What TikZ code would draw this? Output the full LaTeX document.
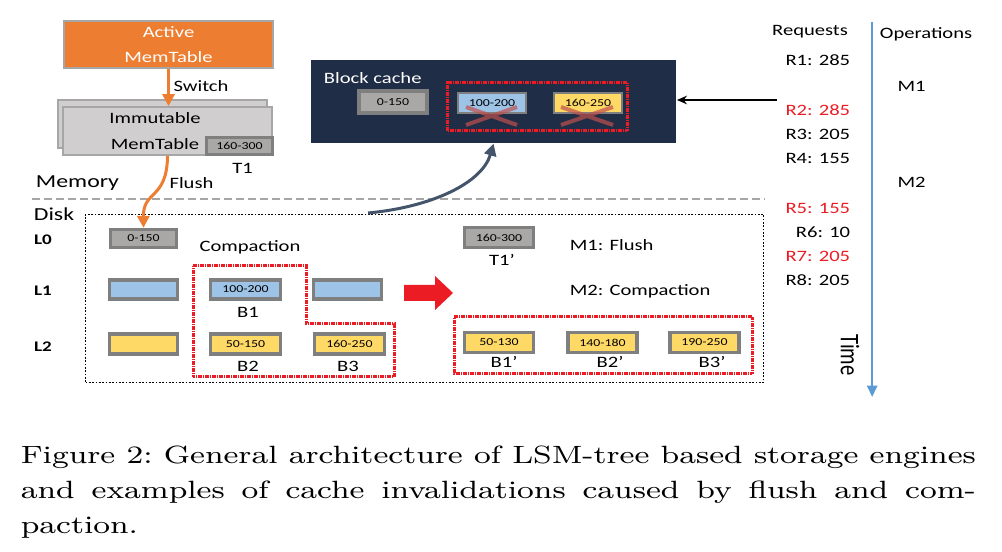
\documentclass[tikz,border=0pt]{standalone}
\usepackage{fontspec}
\usepackage{graphicx}
\usepackage{tikz}
\usetikzlibrary{arrows.meta}
\newfontfamily\carl{Carlito}
\definecolor{act}{RGB}{237,125,49}
\definecolor{imm}{RGB}{208,206,206}
\definecolor{edge}{RGB}{166,166,166}
\definecolor{frame}{RGB}{127,127,127}
\definecolor{tbl}{RGB}{170,167,167}
\definecolor{lb}{RGB}{157,195,230}
\definecolor{ly}{RGB}{255,217,102}
\definecolor{navy}{RGB}{31,45,70}
\definecolor{slate}{RGB}{68,84,106}
\definecolor{rd}{RGB}{236,28,36}
\definecolor{tl}{RGB}{91,155,213}
\definecolor{xr}{RGB}{192,80,77}
\newcommand{\ux}{0.23077pt}
\newcommand{\uy}{0.3pt}

\begin{document}
\begin{tikzpicture}[x=\ux,y=-\uy,xscale=1.3,
    every node/.append style={transform shape},
    txt/.style={font=\carl\fontsize{4.75}{7.7}\selectfont,inner sep=0pt},
    big/.style={font=\carl\fontsize{5.5}{6}\selectfont,inner sep=0pt},
    lvl/.style={font=\carl\bfseries\fontsize{4.4}{5}\selectfont,inner sep=0pt},
    wpx/.style={minimum width=#1*\ux},
    hpx/.style={minimum height=#1*\uy},
    sst/.style={draw=frame,line width=0.95pt,inner sep=0pt,
      font=\carl\fontsize{3.2}{3.2}\selectfont,wpx=68,hpx=19},
    memtbl/.style={draw=edge,line width=0.5pt,fill=imm,txt,align=center,wpx=209,hpx=48},
    inval/.style={draw=rd,line width=0.9pt,dash pattern=on 0.5pt off 0.2pt},
    flow/.style={draw=act,line width=0.9pt,-{Triangle[length=3.6pt,width=3.6pt]}},
    xmark/.style={draw=xr,line width=1.2pt,opacity=0.7}]
  \useasboundingbox (0,0) rectangle (1002,552);

  % memory side
  \node[memtbl,fill=act,text=white,hpx=47] (active) at (168.5,44.5) {Active\\MemTable};
  \node[memtbl] (immback) at (162.5,124) {};
  \node[memtbl] (imm) at (167.5,131) {};
  \node[txt,align=center] (immtxt) at (155,131) {Immutable\\MemTable};
  \node[sst,fill=tbl,line width=1.1pt,wpx=66,hpx=17] (t1) at (239.5,146) {160-300};
  \node[txt] (t1lbl) at (242.5,168) {T1};
  \draw[flow] (active.south) -- (active.south |- imm.north);
  \node[txt] (switch) at (201,86) {Switch};
  \node[txt] (flush) at (191.5,183) {Flush};
  \node[big] (mem) at (77.5,183) {Memory};
  \draw[edge,line width=0.6pt,dash pattern=on 2.4pt off 1.2pt] (32,199) -- (765,199);
  \node[big] (disklbl) at (54,214) {Disk};

  % disk side
  \node[draw,line width=0.3pt,dash pattern=on 0.5pt off 0.5pt,wpx=678,hpx=168] (disk) at (424,299) {};
  \foreach \l/\y in {0/240,1/291,2/347}
    \node[lvl] (lv\l) at (43,\y) {L\l};
  \node[sst,fill=tbl,wpx=66,hpx=18] (l0) at (143.5,238.5) {0-150};
  \node[sst,fill=lb] (l1a) at (143.5,289.5) {};
  \node[sst,fill=lb,wpx=70] (b1) at (245.5,289.5) {100-200};
  \node[sst,fill=lb] (l1c) at (347.5,289.5) {};
  \node[sst,fill=ly,hpx=20] (l2a) at (143.5,344) {};
  \node[sst,fill=ly,wpx=70,hpx=20] (b2) at (245.5,344) {50-150};
  \node[sst,fill=ly,wpx=70,hpx=20] (b3) at (349.5,344) {160-250};
  \node[txt] (b1lbl) at (248,312) {B1};
  \node[txt] (b2lbl) at (248,366) {B2};
  \node[txt] (b3lbl) at (348,366) {B3};
  \node[txt] (comp) at (250,247) {Compaction};
  \draw[inval] (193,266) -- (306,266) -- (306,324) -- (394,324) -- (394,377) -- (193,377) -- cycle;
  \draw[flow] (imm.south) .. controls (167,200) and (143,190) .. (l0.north);
  \fill[rd] (404,285) -- (435,285) -- (435,276) -- (453,293) -- (435,310) -- (435,301) -- (404,301) -- cycle;

  \node[sst,fill=tbl,wpx=69,hpx=20] (t1n) at (499,237.5) {160-300};
  \node[txt] (t1nlbl) at (502,260) {T1’};
  \node[txt,anchor=west] (m1op) at (569,245) {M1: Flush};
  \node[txt,anchor=west] (m2op) at (569,291) {M2: Compaction};
  \node[inval,wpx=298,hpx=57] (newset) at (603,345.5) {};
  \node[sst,fill=ly,wpx=69,hpx=20] (b1n) at (499,342.5) {50-130};
  \node[sst,fill=ly,wpx=69,hpx=20] (b2n) at (602.5,342.5) {140-180};
  \node[sst,fill=ly,wpx=69,hpx=20] (b3n) at (704.5,342.5) {190-250};
  \node[txt] (b1nlbl) at (504,362) {B1’};
  \node[txt] (b2nlbl) at (610,362) {B2’};
  \node[txt] (b3nlbl) at (712,362) {B3’};

  % block cache
  \node[fill=navy,wpx=365,hpx=83] (bcache) at (493.5,101.5) {};
  \node[txt,text=white,anchor=west] (bclbl) at (323,78) {Block cache};
  \node[sst,fill=tbl,line width=1.1pt,wpx=68,hpx=22] (bc0) at (393,102) {0-150};
  \node[sst,fill=lb,line width=0.6pt,wpx=68,hpx=20] (bc1) at (492,103) {100-200};
  \node[sst,fill=ly,line width=0.6pt,wpx=68,hpx=20] (bc2) at (588,103) {160-250};
  \node[inval,wpx=180,hpx=48] (stale) at (537,107) {};
  \draw[xmark] (466,107) -- (517,125) (466,125) -- (517,107);
  \draw[xmark] (561,107) -- (613,125) (561,125) -- (613,107);
  \coordinate (evict) at (368,213);
  \draw[slate,line width=0.9pt,-{Triangle[length=3.6pt,width=3.6pt]}]
    (evict) .. controls (432,207) and (482,183) .. (bcache.south);

  % requests and operations
  \node[txt] (req) at (810,32) {Requests};
  \node[txt] (ops) at (926,34) {Operations};
  \foreach \n/\y/\v/\c in {1/60/285/black,2/110/285/rd,3/134/205/black,4/158/155/black,
      5/208/155/rd,6/232/10/black,7/256/205/rd,8/280/205/black}
    \node[txt,anchor=east,text=\c] (r\n) at (851,\y) {R\n: \v};
  \coordinate (r2in) at (777,100);
  \draw[line width=0.4pt,-{Stealth[length=3pt,width=2.6pt]}] (r2in) -- (r2in -| bcache.east);
  \coordinate (tstart) at (872,22);
  \coordinate (tend) at (872,397);
  \draw[tl,line width=0.75pt,-{Triangle[length=3.4pt,width=3pt]}] (tstart) -- (tend);
  \node[txt] (m1) at (911.5,86) {M1};
  \node[txt] (m2) at (911.5,182) {M2};
  \node[txt,font=\carl\fontsize{6.2}{7}\selectfont,rotate=-90] (time) at (850,355) {Time};

  % caption
  \node[anchor=north west,inner sep=0pt,font=\fontsize{7.5}{10.5}\selectfont] (cap) at (20,445)
    {\scalebox{0.97}[1]{\parbox[t]{227.2pt}{\frenchspacing\tolerance=10000
      Figure 2: General architecture of LSM-tree based storage engines\linebreak
      and examples of cache invalidations caused by flush and com-\linebreak
      paction.}}};
\end{tikzpicture}
\end{document}
